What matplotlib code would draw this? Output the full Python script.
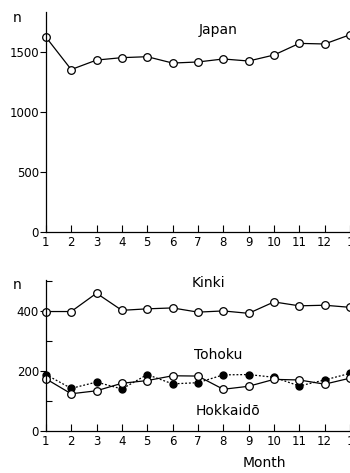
import matplotlib
matplotlib.use("Agg")
import matplotlib.pyplot as plt

# month 13 = January again (cut off at the right edge)
months = list(range(1, 14))
month_labels = [str(m) for m in range(1, 13)] + ["1"]

japan = [1625, 1354, 1433, 1453, 1461, 1408, 1417, 1442, 1425, 1475, 1572, 1567, 1644]
kinki = [398, 398, 459, 402, 407, 410, 396, 400, 392, 430, 417, 419, 412]
tohoku = [188, 142, 163, 140, 188, 157, 161, 187, 188, 179, 150, 170, 192]
hokkaido = [174, 124, 134, 159, 168, 184, 183, 139, 149, 172, 170, 156, 176]

plt.rcParams["font.family"] = "DejaVu Sans"

fig = plt.figure(figsize=(3.5, 4.73), dpi=100)
ax1 = fig.add_axes([0.131, 0.5095, 0.869, 0.465])
ax2 = fig.add_axes([0.131, 0.0888, 0.869, 0.3192])

open_style = dict(marker="o", markersize=5.5, markerfacecolor="white",
                  markeredgecolor="black", markeredgewidth=0.9,
                  color="black", linewidth=0.9, clip_on=False)

# --- top panel: Japan ---
ax1.plot(months, japan, **open_style)
ax1.set_xlim(1, 13)
ax1.set_ylim(0, 1833)
ax1.set_yticks([0, 500, 1000, 1500])
ax1.set_yticklabels(["0", "500", "1000", "1500"])
ax1.text(7.8, 1680, "Japan", fontsize=10, ha="center", va="center")
ax1.text(-0.08, 1780, "n", fontsize=10, ha="right", va="center",
         transform=ax1.get_yaxis_transform())

# --- bottom panel: Kinki, Tohoku, Hokkaido ---
ax2.plot(months, kinki, **open_style)
ax2.plot(months, tohoku, marker="o", markersize=5, color="black",
         linestyle=(0, (1.5, 1.5)), linewidth=0.9, clip_on=False)
ax2.plot(months, hokkaido, **open_style)
ax2.set_xlim(1, 13)
ax2.set_ylim(0, 503)
ax2.set_yticks([0, 200, 400])
ax2.set_yticks([100, 300, 500], minor=True)
ax2.text(7.4, 494, "Kinki", fontsize=10, ha="center", va="center")
ax2.text(7.8, 253, "Tohoku", fontsize=10, ha="center", va="center")
ax2.text(8.2, 66, "Hokkaidō", fontsize=10, ha="center", va="center")
ax2.text(-0.08, 485, "n", fontsize=10, ha="right", va="center",
         transform=ax2.get_yaxis_transform())
ax2.text(0.72, -0.21, "Month", fontsize=10, ha="center", va="center",
         transform=ax2.transAxes)

for ax in (ax1, ax2):
    ax.set_xticks(months)
    ax.set_xticklabels(month_labels)
    ax.spines["top"].set_visible(False)
    ax.spines["right"].set_visible(False)
    ax.tick_params(axis="x", direction="in", length=5, width=0.8,
                   labelsize=8.5, pad=3)
    ax.tick_params(axis="y", which="major", direction="out", length=4,
                   width=0.8, labelsize=8.5, pad=1)
    ax.tick_params(axis="y", which="minor", direction="in", length=4,
                   width=0.8)
    for s in ("left", "bottom"):
        ax.spines[s].set_linewidth(0.9)

fig.savefig("out.png", dpi=100)
